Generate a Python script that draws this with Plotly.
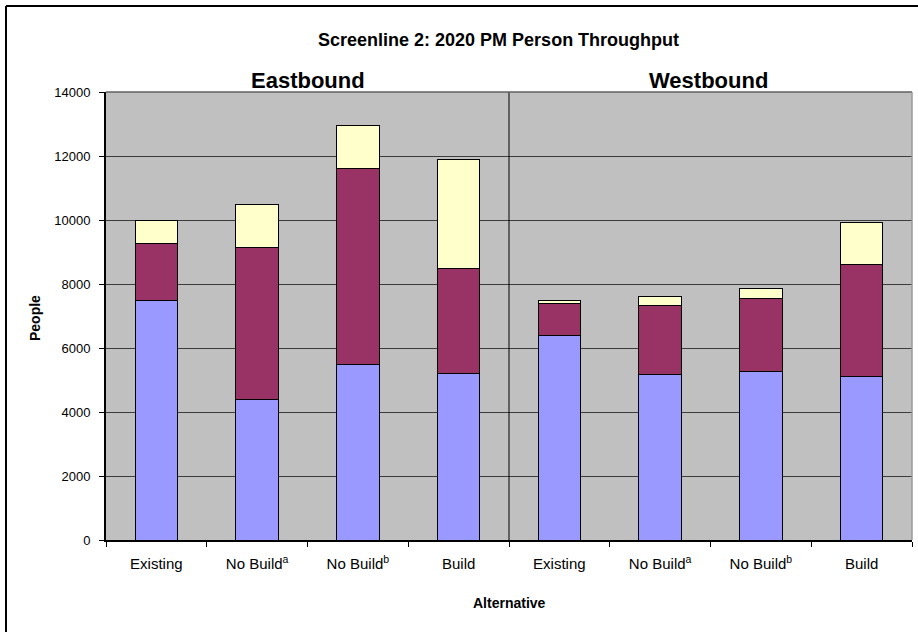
import plotly.graph_objects as go

# Screenline 2 PM person throughput, year 2020
directions = ["Eastbound", "Westbound"]
alternatives = ["Existing", "No Build<sup>a</sup>", "No Build<sup>b</sup>", "Build"]

# stacked segments per bar, Eastbound first then Westbound
segment_1 = [7500, 4400, 5500, 5200, 6380, 5170, 5270, 5100]
segment_2 = [1770, 4730, 6100, 3300, 1000, 2160, 2280, 3500]
segment_3 = [700, 1350, 1350, 3400, 100, 280, 300, 1320]

segment_names = ["Segment 1", "Segment 2", "Segment 3"]
segment_colors = ["#9999FF", "#993366", "#FFFFCC"]

y_ticks = [0, 2000, 4000, 6000, 8000, 10000, 12000, 14000]
y_tick_labels = ["0", "2000", "4000", "6000", "8000", "10000", "12000", "14000"]

tick_labels = alternatives * len(directions)
positions = list(range(len(tick_labels)))

W, H = 918, 632
ML, MR, MT, MB = 106, 6, 92, 92
PW, PH = W - ML - MR, H - MT - MB


def px_x(px):
    return (px - ML) / PW


def px_y(py):
    return (H - MB - py) / PH


fig = go.Figure()
for name, vals, color in zip(segment_names, [segment_1, segment_2, segment_3], segment_colors):
    fig.add_trace(go.Bar(
        x=positions, y=vals, name=name, width=0.42,
        marker=dict(color=color, line=dict(color="black", width=1)),
        hoverinfo="y",
    ))

font_family = "Liberation Sans, Arial, sans-serif"

fig.update_layout(
    width=W, height=H,
    margin=dict(l=ML, r=MR, t=MT, b=MB),
    barmode="stack",
    showlegend=False,
    paper_bgcolor="white",
    plot_bgcolor="#C0C0C0",
    font=dict(family=font_family, color="black"),
    xaxis=dict(
        range=[-0.5, len(positions) - 0.5],
        tickmode="array", tickvals=positions, ticktext=tick_labels,
        # invisible centre ticks just set the label offset; boundary ticks are minor
        ticks="outside", ticklen=9, tickcolor="rgba(0,0,0,0)",
        tickfont=dict(size=15, family=font_family),
        showgrid=False, zeroline=False,
        showline=True, linecolor="black", linewidth=2,
        minor=dict(
            tickmode="array",
            tickvals=[p - 0.5 for p in positions] + [positions[-1] + 0.5],
            ticks="outside", ticklen=5, tickcolor="black", tickwidth=1,
            showgrid=False,
        ),
    ),
    yaxis=dict(
        range=[0, 14000],
        tickmode="array", tickvals=y_ticks, ticktext=y_tick_labels,
        ticks="outside", ticklen=5, tickcolor="black",
        ticklabelstandoff=6,
        tickfont=dict(size=13, family=font_family),
        showgrid=True, gridcolor="#3c3c3c", gridwidth=1,
        zeroline=False,
        showline=True, linecolor="black", linewidth=2,
    ),
)

shapes = [
    # direction divider
    dict(type="line", xref="x", yref="y", x0=3.5, x1=3.5, y0=0, y1=14000,
         line=dict(color="black", width=1)),
    # top edge of plot area
    dict(type="line", xref="paper", yref="paper", x0=0, x1=1, y0=1, y1=1,
         line=dict(color="#606060", width=1.5)),
    # right edge of plot area
    dict(type="line", xref="paper", yref="paper", x0=1, x1=1, y0=0, y1=1,
         line=dict(color="#9a9a9a", width=1.5)),
    # chart frame
    dict(type="line", xref="paper", yref="paper", x0=px_x(6), x1=px_x(6),
         y0=px_y(6), y1=px_y(H), line=dict(color="black", width=2)),
    dict(type="line", xref="paper", yref="paper", x0=px_x(6), x1=px_x(W),
         y0=px_y(6), y1=px_y(6), line=dict(color="black", width=2)),
]
fig.update_layout(shapes=shapes)

annotations = [
    dict(text="<b>Screenline 2: 2020 PM Person Throughput</b>", x=px_x(498), y=px_y(40),
         font=dict(size=18)),
    dict(text="<b>" + directions[0] + "</b>", x=px_x(308), y=px_y(80), font=dict(size=22)),
    dict(text="<b>" + directions[1] + "</b>", x=px_x(708), y=px_y(80), font=dict(size=22)),
    dict(text="<b>People</b>", x=px_x(35), y=px_y(318), textangle=-90, font=dict(size=14)),
    dict(text="<b>Alternative</b>", x=px_x(510), y=px_y(603), font=dict(size=14)),
]
for a in annotations:
    a.update(xref="paper", yref="paper", xanchor="center", yanchor="middle",
             showarrow=False)
    a["font"]["family"] = font_family
    a["font"]["color"] = "black"
fig.update_layout(annotations=annotations)

fig.write_html("out.html")
